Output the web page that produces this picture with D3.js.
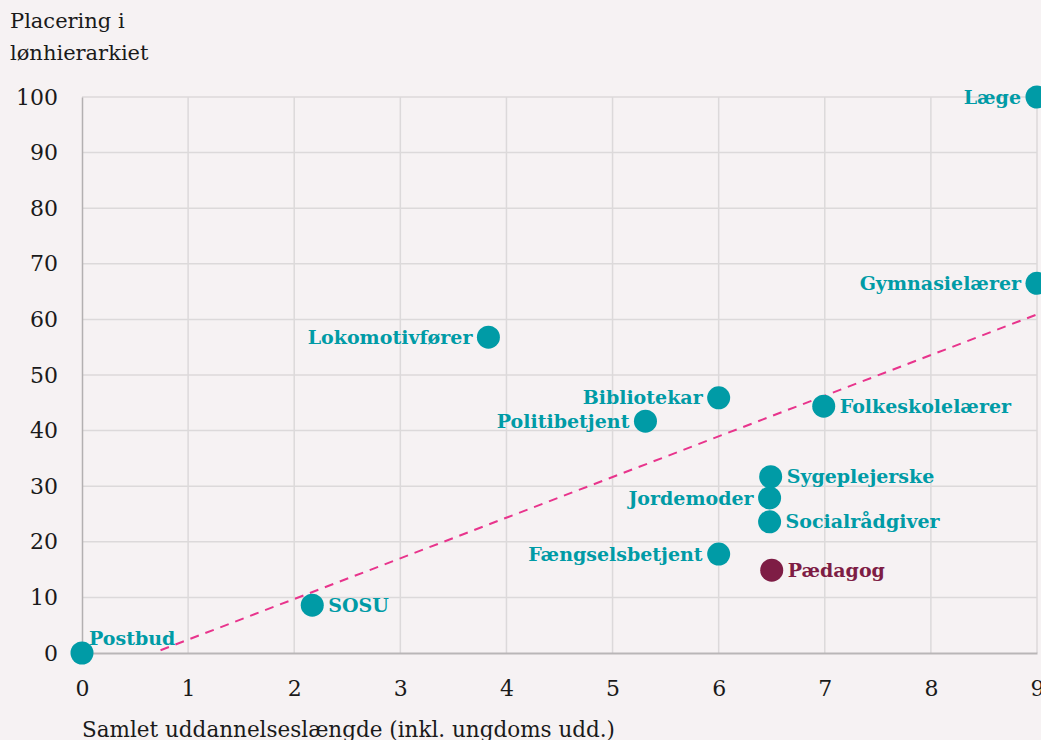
<!DOCTYPE html>
<html>
<head>
<meta charset="utf-8">
<script src="https://cdnjs.cloudflare.com/ajax/libs/d3/7.8.5/d3.min.js"></script>
<style>
  body { margin: 0; background: #f6f2f3; overflow: hidden; }
  svg { display: block; }
  text { font-family: "DejaVu Serif", serif; }
</style>
</head>
<body>
<svg class="chart" width="1041" height="740"></svg>
<script>
// data
var jobs = ["Postbud", "SOSU", "Lokomotivfører", "Politibetjent", "Bibliotekar", "Fængselsbetjent",
            "Folkeskolelærer", "Sygeplejerske", "Jordemoder", "Socialrådgiver", "Pædagog",
            "Gymnasielærer", "Læge"];
var uddannelse = [0, 2.17, 3.83, 5.31, 6.0, 6.0, 6.99, 6.49, 6.48, 6.48, 6.5, 9, 9];
var placering = [0, 8.6, 56.8, 41.7, 45.9, 17.8, 44.4, 31.7, 27.9, 23.6, 14.9, 66.5, 100];
var labelSide = ["above", "right", "left", "left", "left", "left",
                 "right", "right", "left", "right", "right", "left", "left"];
var highlight = "Pædagog";

var trendX = [0.74, 9];
var trendY = [0.5, 60.9];

var xTicks = [0, 1, 2, 3, 4, 5, 6, 7, 8, 9];
var yTicks = [0, 10, 20, 30, 40, 50, 60, 70, 80, 90, 100];

var svg = d3.select(".chart");

var x = d3.scaleLinear().domain([0, 9]).range([82, 1037]);
var y = d3.scaleLinear().domain([0, 100]).range([653, 97]);

var teal = "#009ba6",
    plum = "#7e1d45",
    pink = "#e8348c";

// grid
svg.append("g")
  .selectAll("line")
  .data(xTicks.slice(1))
  .enter().append("line")
    .attr("x1", function(d) { return x(d); })
    .attr("x2", function(d) { return x(d); })
    .attr("y1", y(100))
    .attr("y2", y(0))
    .attr("stroke", "#dcd9da")
    .attr("stroke-width", 1.5);

svg.append("g")
  .selectAll("line")
  .data(yTicks.slice(1))
  .enter().append("line")
    .attr("x1", x(0))
    .attr("x2", x(9))
    .attr("y1", function(d) { return y(d); })
    .attr("y2", function(d) { return y(d); })
    .attr("stroke", "#dcd9da")
    .attr("stroke-width", 1.5);

// axes
var xAxis = svg.append("g")
    .attr("transform", "translate(0," + y(0) + ")")
    .call(d3.axisBottom(x).tickValues(xTicks).tickSize(0).tickPadding(27).tickFormat(d3.format("d")));

var yAxis = svg.append("g")
    .attr("transform", "translate(" + x(0) + ",0)")
    .call(d3.axisLeft(y).tickValues(yTicks).tickSize(0).tickPadding(24).tickFormat(d3.format("d")));

xAxis.select(".domain").attr("stroke", "#b9b6b7").attr("stroke-width", 2);
yAxis.select(".domain").attr("stroke", "#b3b0b1").attr("stroke-width", 1.5);

svg.selectAll(".tick text")
    .attr("font-family", "'DejaVu Sans', sans-serif")
    .attr("font-size", 22)
    .attr("fill", "#1a1a1a");

// trend line
svg.append("line")
    .attr("x1", x(trendX[0]))
    .attr("y1", y(trendY[0]))
    .attr("x2", x(trendX[1]))
    .attr("y2", y(trendY[1]))
    .attr("stroke", pink)
    .attr("stroke-width", 2)
    .attr("stroke-dasharray", "9,7");

// points
var data = jobs.map(function(j, i) {
  return { name: j, x: uddannelse[i], y: placering[i], side: labelSide[i] };
});

var pts = svg.append("g")
  .selectAll("g")
  .data(data)
  .enter().append("g");

pts.append("circle")
    .attr("cx", function(d) { return x(d.x); })
    .attr("cy", function(d) { return y(d.y); })
    .attr("r", 11.5)
    .attr("fill", function(d) { return d.name == highlight ? plum : teal; });

pts.append("text")
    .attr("x", function(d) {
      if (d.side == "left") return x(d.x) - 16;
      if (d.side == "above") return x(d.x) + 7;
      return x(d.x) + 16;
    })
    .attr("y", function(d) { return d.side == "above" ? y(d.y) - 15 : y(d.y); })
    .attr("dy", "0.35em")
    .attr("text-anchor", function(d) { return d.side == "left" ? "end" : "start"; })
    .attr("font-size", 19)
    .attr("font-weight", "bold")
    .attr("fill", function(d) { return d.name == highlight ? plum : teal; })
    .text(function(d) { return d.name; });

// titles
svg.append("text")
    .attr("x", 10)
    .attr("y", 28)
    .attr("font-size", 21)
    .attr("fill", "#1a1a1a")
    .text("Placering i");

svg.append("text")
    .attr("x", 10)
    .attr("y", 60)
    .attr("font-size", 21)
    .attr("fill", "#1a1a1a")
    .text("lønhierarkiet");

svg.append("text")
    .attr("x", 82)
    .attr("y", 737)
    .attr("font-size", 21.5)
    .attr("fill", "#1a1a1a")
    .text("Samlet uddannelseslængde (inkl. ungdoms udd.)");
</script>
</body>
</html>
